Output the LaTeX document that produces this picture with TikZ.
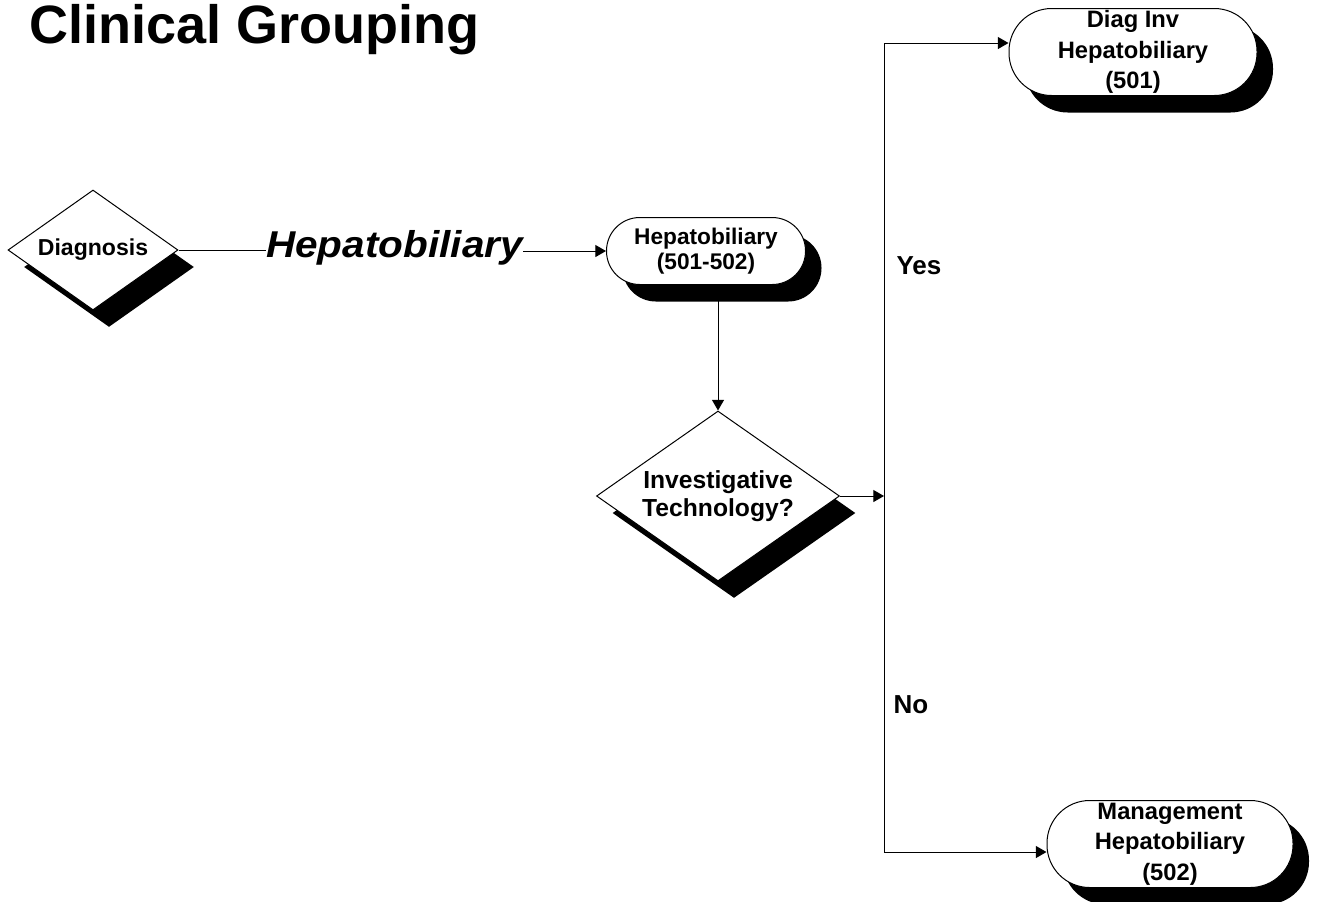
\documentclass[tikz,border=0pt]{standalone}
\usepackage{fontspec}
\usepackage{graphicx}
\setmainfont{Liberation Sans}
\usetikzlibrary{shapes.geometric,shadows,arrows.meta}
\begin{document}
\begin{tikzpicture}[x=0.75pt,y=-0.75pt,line width=0.75pt,
  >={Triangle[length=8pt,width=9pt]},
  shad/.style={drop shadow={shadow xshift=12pt,shadow yshift=-12.75pt,opacity=1,fill=black}},
  dec/.style={diamond,draw,fill=white,inner sep=0pt,align=center,shad},
  pill/.style={rectangle,draw,fill=white,inner sep=0pt,align=center,shad},
  lbl/.style={font=\fontsize{19.5}{22}\selectfont\bfseries,inner sep=0pt,anchor=west}]
\useasboundingbox (0,0) rectangle (1317,901);

% title
\node[anchor=base west,inner sep=0pt,font=\fontsize{40.5}{42}\selectfont\bfseries] (title) at (29,43) {Clinical Grouping};

% nodes
\node[dec,aspect=1.417,minimum width=127.5pt,minimum height=90pt,font=\fontsize{17.3}{19}\selectfont\bfseries] (diag) at (93,250) {Diagnosis};
\node[anchor=base,inner sep=0pt,font=\fontsize{28}{30}\selectfont\bfseries\itshape] (hlab) at (394.5,257) {\scalebox{1.085}[1]{Hepatobiliary}};
\node[pill,minimum width=149.25pt,minimum height=50.25pt,rounded corners=25pt,font=\fontsize{17}{19}\selectfont\bfseries] (hb) at (706,251) {Hepatobiliary\\(501-502)};
\node[dec,aspect=1.43,minimum width=182.25pt,minimum height=127.5pt,font=\fontsize{18.5}{21}\selectfont\bfseries] (inv) at (718,496) {Investigative\\Technology?};
\node[pill,minimum width=186pt,minimum height=65.25pt,rounded corners=32pt,font=\fontsize{17.8}{23}\selectfont\bfseries] (dinv) at (1133,52) {Diag Inv\\Hepatobiliary\\(501)};
\node[pill,minimum width=184.5pt,minimum height=65.25pt,rounded corners=32pt,font=\fontsize{17.8}{23}\selectfont\bfseries] (mgmt) at (1170,844) {Management\\Hepatobiliary\\(502)};

\node[lbl] (yes) at (896,266) {Yes};
\node[lbl] (no) at (893,705) {No};

\coordinate (vx) at (884,496);
\coordinate (vtop) at (884,43);
\coordinate (vbot) at (884,852);

% connectors
\draw (diag.east) -- (diag.east -| hlab.west);
\draw[->] (hlab.east |- hb.west) -- (hb.west);
\draw[->] (hb.south -| inv.north) -- (inv.north);
\draw[->] (inv.east) -- (vx);
\draw (vtop) -- (vbot);
\draw[->] (vtop) -- (vtop -| dinv.west);
\draw[->] (vbot) -- (vbot -| mgmt.west);
\end{tikzpicture}
\end{document}
